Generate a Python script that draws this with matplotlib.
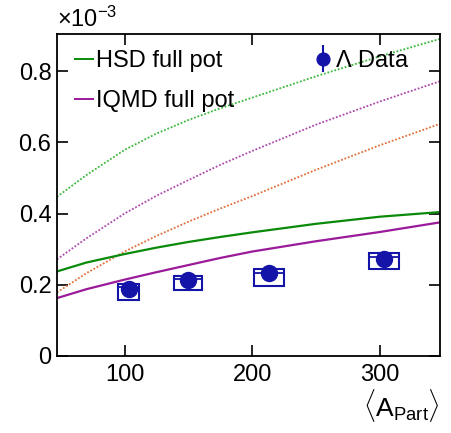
import numpy as np
import matplotlib
matplotlib.use('Agg')
import matplotlib.pyplot as plt
from matplotlib.patches import Rectangle
from matplotlib.container import ErrorbarContainer
from matplotlib.legend_handler import HandlerErrorbar

plt.rcParams['font.family'] = ['Liberation Sans', 'DejaVu Sans']
plt.rcParams['mathtext.fontset'] = 'custom'
plt.rcParams['mathtext.rm'] = 'Liberation Sans'
plt.rcParams['mathtext.it'] = 'Liberation Sans'
plt.rcParams['mathtext.sf'] = 'Liberation Sans'

# model curves (units of 1e-3)
x_model = [47, 70, 100, 125, 150, 175, 200, 250, 300, 347]
hsd_full = [0.237, 0.262, 0.286, 0.304, 0.320, 0.334, 0.347, 0.371, 0.391, 0.404]
iqmd_full = [0.162, 0.187, 0.214, 0.235, 0.255, 0.275, 0.293, 0.322, 0.348, 0.375]
hsd_dotted = [0.447, 0.508, 0.579, 0.625, 0.663, 0.696, 0.726, 0.786, 0.842, 0.891]
iqmd_dotted = [0.271, 0.330, 0.400, 0.450, 0.494, 0.537, 0.576, 0.650, 0.715, 0.772]
other_dotted = [0.178, 0.232, 0.293, 0.337, 0.377, 0.414, 0.449, 0.523, 0.592, 0.652]

# Lambda data
a_part = [103.4, 149.7, 213.2, 303.4]
lam = [0.187, 0.213, 0.232, 0.272]
lam_stat = [0.006, 0.006, 0.006, 0.006]
sys_halfwidth = [8.2, 10.7, 11.4, 12.0]
sys_lo = [0.157, 0.185, 0.197, 0.243]
sys_hi = [0.201, 0.2245, 0.244, 0.288]
sys_inner = [0.192, 0.216, 0.234, 0.278]

green = '#0a8a0a'
green_light = '#3cb83c'
purple = '#9a1a9a'
orange = '#e0703a'
blue = '#1414a8'

fig = plt.figure(figsize=(4.52, 4.33), dpi=100)
ax = fig.add_axes([0.126, 0.1785, 0.847, 0.743])

ax.plot(x_model, hsd_dotted, color=green_light, lw=1.3, ls=(0, (1, 1)))
ax.plot(x_model, iqmd_dotted, color=purple, lw=1.3, ls=(0, (1, 1)), alpha=0.8)
ax.plot(x_model, other_dotted, color=orange, lw=1.3, ls=(0, (1, 1)))
l_hsd, = ax.plot(x_model, hsd_full, color=green, lw=1.6, label='HSD full pot')
l_iqmd, = ax.plot(x_model, iqmd_full, color=purple, lw=1.6, label='IQMD full pot')

# systematic boxes
for x, hw, lo, hi, inner in zip(a_part, sys_halfwidth, sys_lo, sys_hi, sys_inner):
    ax.add_patch(Rectangle((x - hw, lo), 2 * hw, hi - lo, fill=False,
                           edgecolor=blue, lw=1.5, zorder=3))
    ax.plot([x - hw, x + hw], [inner, inner], color=blue, lw=1.3, zorder=3)

data = ax.errorbar(a_part, lam, yerr=lam_stat, fmt='o', color=blue,
                   ms=11.5, elinewidth=1.5, capsize=0, zorder=4, label=r'$\Lambda$ Data')

ax.set_xlim(47, 347)
ax.set_ylim(0, 0.905)
ax.set_xticks([100, 200, 300])
ax.set_yticks([0, 0.2, 0.4, 0.6, 0.8])
ax.set_yticklabels(['0', '0.2', '0.4', '0.6', '0.8'])
ax.tick_params(direction='in', length=8, width=1.2, labelsize=17,
               top=True, right=True, pad=4)
ax.tick_params(axis='x', pad=6)
for s in ax.spines.values():
    s.set_linewidth(1.3)

ax.text(0.0, 1.005, r'$\times10^{-3}$', transform=ax.transAxes,
        fontsize=17, ha='left', va='bottom')
ax.text(1.0, -0.098, r'$\langle$A$_{\mathrm{Part}}\rangle$', transform=ax.transAxes,
        fontsize=19, ha='right', va='top')

leg1 = ax.legend(handles=[l_hsd, l_iqmd], loc='upper left',
                 bbox_to_anchor=(0.047, 0.95), frameon=False, fontsize=17,
                 handlelength=0.75, handletextpad=0.15, labelspacing=0.75,
                 borderpad=0, borderaxespad=0)
for h in leg1.get_lines():
    h.set_linewidth(1.4)
ax.add_artist(leg1)
ax.legend(handles=[data], loc='upper left', bbox_to_anchor=(0.67, 0.95),
          frameon=False, fontsize=17, handlelength=0.8, handletextpad=0.1,
          borderpad=0, borderaxespad=0, markerscale=0.8,
          handler_map={ErrorbarContainer: HandlerErrorbar(yerr_size=0.57, numpoints=1)})

fig.savefig('out.png', dpi=100)
